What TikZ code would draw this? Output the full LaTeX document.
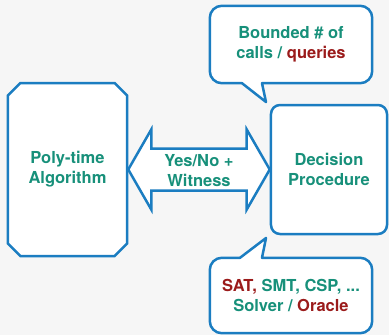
\documentclass[tikz,border=0pt]{standalone}
\usepackage{fontspec}
\setmainfont{TeX Gyre Heros}
\usepackage{tikz}
\usetikzlibrary{shapes,arrows,positioning,calc}

\definecolor{edgeblue}{HTML}{1B7DC1}
\definecolor{txtgreen}{HTML}{17907A}
\definecolor{txtred}{HTML}{9B1B1B}
\definecolor{paper}{HTML}{F6F6F6}

\pgfdeclarelayer{bubbles}
\pgfsetlayers{bubbles,main}

\begin{document}
\begin{tikzpicture}[x=1bp, y=-1bp,
    box/.style={draw=edgeblue, fill=white, line width=2.5bp, align=center,
      text=txtgreen, font=\bfseries\fontsize{16.5bp}{20bp}\selectfont},
    bubble/.style={draw=edgeblue, fill=white, line width=2.5bp, line join=round},
    label/.style={align=center, text=txtgreen, font=\bfseries\fontsize{16.5bp}{20bp}\selectfont}]
      \begin{pgfonlayer}{bubbles}
        \fill[paper] (0,0) rectangle (389,335);
      \end{pgfonlayer}
      \useasboundingbox (0,0) rectangle (389,335);
      \node[box, chamfered rectangle, chamfered rectangle xsep=9bp,
        minimum width=119bp, minimum height=173bp, inner sep=0pt] (algo) at (67.5,169.5) {Poly-time\\Algorithm};
      \node[box, rounded corners=9bp, minimum width=116bp, minimum height=129bp] (proc) at (329,169.5) {Decision\\Procedure};
      % two-headed arrow between the boxes
      \draw[bubble, line join=miter] (algo.east) -- ++(23,-40) -- ++(0,19) -- ($(proc.west)+(-23,-21)$) -- ++(0,-19)
        -- (proc.west) -- ++(-23,40) -- ++(0,-19) -- ($(algo.east)+(23,21)$) -- ++(0,19) -- cycle;
      \node[label] (answer) at ($(algo.east)!0.5!(proc.west)+(0,1.5)$) {Yes/No +\\Witness};
      % speech bubbles
      \node[label, minimum width=162bp, minimum height=77bp] (bound) at (291,44.5) {Bounded \# of\\calls / \textcolor{txtred}{queries}};
      \node[label, minimum width=162bp, minimum height=75bp] (solver) at (291,295.5) {\textcolor{txtred}{SAT,} SMT, CSP, ...\\Solver / \textcolor{txtred}{Oracle}};
      \coordinate (tiptop) at (266,102);
      \coordinate (tipbot) at (266,238);
      \begin{pgfonlayer}{bubbles}
      \draw[bubble] (tiptop) -- ($(bound.south)+(-29,0)$) {[rounded corners=12bp] -- (bound.south east) -- (bound.north east)
        -- (bound.north west) -- (bound.south west)} -- ($(bound.south)+(-49,0)$) -- cycle;
      \draw[bubble] (tipbot) -- ($(solver.north)+(-29,0)$) {[rounded corners=12bp] -- (solver.north east) -- (solver.south east)
        -- (solver.south west) -- (solver.north west)} -- ($(solver.north)+(-51,0)$) -- cycle;
      \end{pgfonlayer}
\end{tikzpicture}
\end{document}
